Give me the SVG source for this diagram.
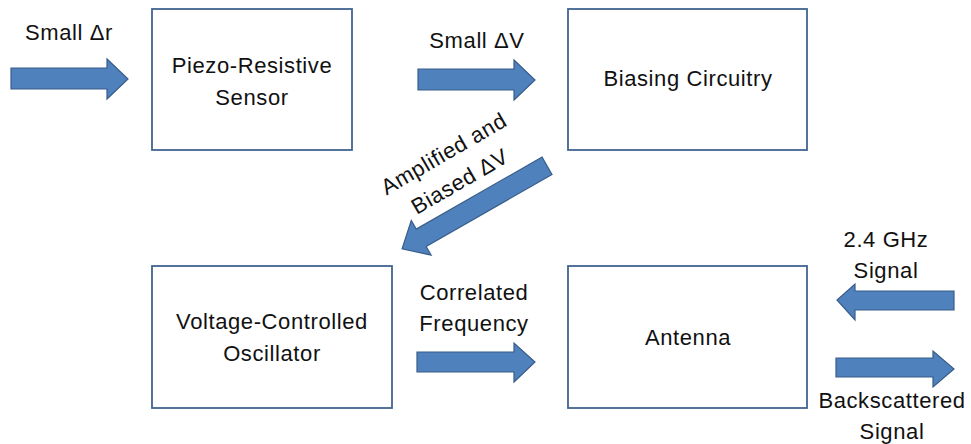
<svg xmlns="http://www.w3.org/2000/svg" width="971" height="444" viewBox="0 0 971 444">
<style>
.box{fill:#fff;stroke:#41648F;stroke-width:1.8}
.arr{fill:#4F81BD;stroke:#385D8A;stroke-width:1.2}
text{font-family:"Liberation Sans",Arial,sans-serif;font-size:22px;letter-spacing:0.6px;fill:#111;text-anchor:middle}
</style>
<rect width="971" height="444" fill="#fff"/>
<g id="n1"><rect class="box" x="152" y="9" width="200" height="141"/><text x="252" y="73">Piezo-Resistive</text><text x="252" y="105">Sensor</text></g>
<g id="n2"><rect class="box" x="568" y="9" width="239" height="141"/><text x="688" y="86">Biasing Circuitry</text></g>
<g id="n3"><rect class="box" x="152" y="266" width="240" height="142"/><text x="272" y="329">Voltage-Controlled</text><text x="272" y="361">Oscillator</text></g>
<g id="n4"><rect class="box" x="568" y="266" width="239" height="142"/><text x="688" y="345">Antenna</text></g>
<g id="connectors">
<path class="arr" d="M11,68 H107 V59 L128,79 L107,99 V89 H11 Z"/>
<path class="arr" d="M418,69 H514 V60 L535,80 L514,100 V90 H418 Z"/>
<path class="arr" d="M417,352 H514 V343 L535,362 L514,382 V372 H417 Z"/>
<path class="arr" d="M954,291 H855 V284 L837,300 L855,320 V310 H954 Z"/>
<path class="arr" d="M836,358 H933 V351 L954,369 L933,387 V377 H836 Z"/>
<path class="arr" d="M-83,-10 H62 V-20 L84,0 L62,20 V10 H-83 Z" transform="translate(475,207) rotate(150.2)"/>
</g>
<g id="labels">
<text x="69" y="40">Small Δr</text>
<text x="477" y="48">Small ΔV</text>
<g transform="translate(452,168) rotate(-30)"><text x="0" y="-9">Amplified and</text><text x="0" y="23">Biased ΔV</text></g>
<text x="474" y="300">Correlated</text>
<text x="474" y="331">Frequency</text>
<text x="886" y="247">2.4 GHz</text>
<text x="886" y="278">Signal</text>
<text x="892" y="408">Backscattered</text>
<text x="892" y="439">Signal</text>
</g>
</svg>
